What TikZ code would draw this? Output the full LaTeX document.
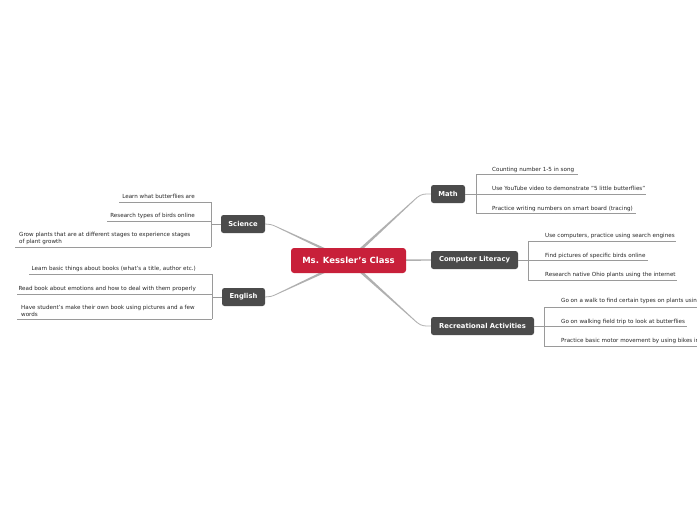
\documentclass[tikz,border=0pt]{standalone}
\usepackage{fontspec}
\setmainfont{DejaVu Sans}
\usetikzlibrary{backgrounds,calc}
\definecolor{centred}{HTML}{C8203A}
\definecolor{topicgray}{HTML}{4B4B4B}
\definecolor{linkgray}{HTML}{B0B0B0}
\definecolor{brgray}{HTML}{9A9A9A}
\definecolor{txtgray}{HTML}{262626}
\begin{document}
\begin{tikzpicture}[x=1pt,y=-1pt,
  centerbox/.style={fill=centred,rounded corners=3pt,text=white,font=\fontsize{8.5}{9}\selectfont\bfseries,minimum height=25pt,inner sep=0pt},
  topicbox/.style={fill=topicgray,rounded corners=2.5pt,text=white,font=\fontsize{6.8}{7}\selectfont\bfseries,minimum height=18pt,inner sep=0pt},
  leaf/.style={inner sep=0pt,text=txtgray,font=\fontsize{5.6}{6.6}\selectfont},
  link/.style={draw=linkgray,line width=0.8pt},
  taper/.style={fill=linkgray},
  bracket/.style={draw=brgray,line width=0.7pt}
]
\useasboundingbox (0,0) rectangle (697,520);

% central and main topics
\node[centerbox,minimum width=115pt] (ms) at (348.5,260.5) {Ms. Kessler's Class};
\node[topicbox,minimum width=34pt] (math) at (448,194) {Math};
\node[topicbox,minimum width=87pt] (cl) at (474.5,260) {Computer Literacy};
\node[topicbox,minimum width=103pt] (rec) at (482.5,326) {Recreational Activities};
\node[topicbox,minimum width=44pt] (sci) at (243,224) {Science};
\node[topicbox,minimum width=43pt] (eng) at (243.5,297) {English};

\coordinate (mb) at (417,197.5);
\coordinate (rb) at (417,322.5);
\coordinate (sb) at (277,227);
\coordinate (eb) at (277,294);

\begin{scope}[on background layer]
\fill[white] (0,0) rectangle (697,520);
\foreach \b in {mb,rb,sb,eb}{
  \fill[taper] ($(ms.center)!1.6pt!90:(\b)$) -- ($(\b)!0.42pt!-90:(ms.center)$)
     -- ($(\b)!0.42pt!90:(ms.center)$) -- ($(ms.center)!1.6pt!-90:(\b)$) -- cycle;
}
\draw[link] (mb) .. controls (422,193.5) and (425,194) .. (math.west);
\draw[link] (rb) .. controls (422,326.5) and (425,326) .. (rec.west);
\draw[link] (sb) .. controls (272,224.5) and (269,224) .. (sci.east);
\draw[link] (eb) .. controls (272,296.5) and (269,297) .. (eng.east);
\fill[taper] ($(ms.center)+(0,-1.3)$) -- ($(cl.west)+(0,-0.6)$) -- ($(cl.west)+(0,0.6)$) -- ($(ms.center)+(0,1.3)$) -- cycle;
\end{scope}

% Math leaves
\coordinate (mj) at (476,194);
\coordinate (m1a) at (476,174); \coordinate (m1b) at (578,174);
\coordinate (m2a) at (476,194); \coordinate (m2b) at (646,194);
\coordinate (m3a) at (476,213.5); \coordinate (m3b) at (636,213.5);
\draw[bracket] (math.east) -- (mj);
\draw[bracket] (m1a) -- (m3a);
\draw[bracket] (m1a) -- (m1b); \draw[bracket] (m2a) -- (m2b); \draw[bracket] (m3a) -- (m3b);
\node[leaf,anchor=base west] (m1) at (492,171) {Counting number 1-5 in song};
\node[leaf,anchor=base west] (m2) at (492,190.5) {Use YouTube video to demonstrate "5 little butterflies"};
\node[leaf,anchor=base west] (m3) at (492,210) {Practice writing numbers on smart board (tracing)};

% Computer Literacy leaves
\coordinate (cj) at (528,260);
\coordinate (c1a) at (528,241); \coordinate (c1b) at (676,241);
\coordinate (c2a) at (528,260.5); \coordinate (c2b) at (648,260.5);
\coordinate (c3a) at (528,280); \coordinate (c3b) at (677,280);
\draw[bracket] (cl.east) -- (cj);
\draw[bracket] (c1a) -- (c3a);
\draw[bracket] (c1a) -- (c1b); \draw[bracket] (c2a) -- (c2b); \draw[bracket] (c3a) -- (c3b);
\node[leaf,anchor=base west] (c1) at (545,237.5) {Use computers, practice using search engines};
\node[leaf,anchor=base west] (c2) at (545,257) {Find pictures of specific birds online};
\node[leaf,anchor=base west] (c3) at (545,276.5) {Research native Ohio plants using the internet};

% Recreational leaves
\coordinate (rj) at (544,326);
\coordinate (r1a) at (544,307); \coordinate (r1b) at (697,307);
\coordinate (r2a) at (544,326.5); \coordinate (r2b) at (687,326.5);
\coordinate (r3a) at (544,346); \coordinate (r3b) at (697,346);
\draw[bracket] (rec.east) -- (rj);
\draw[bracket] (r1a) -- (r3a);
\draw[bracket] (r1a) -- (r1b); \draw[bracket] (r2a) -- (r2b); \draw[bracket] (r3a) -- (r3b);
\begin{scope}
\clip (0,0) rectangle (697,520);
\node[leaf,anchor=base west] (r1) at (561,302.5) {Go on a walk to find certain types on plants using};
\node[leaf,anchor=base west] (r2) at (561,323) {Go on walking field trip to look at butterflies};
\node[leaf,anchor=base west] (r3) at (561,342.5) {Practice basic motor movement by using bikes in};
\end{scope}

% Science leaves
\coordinate (sj) at (211,224);
\coordinate (s1a) at (211,202); \coordinate (s1b) at (119,202);
\coordinate (s2a) at (211,221); \coordinate (s2b) at (107,221);
\coordinate (s3a) at (211,247); \coordinate (s3b) at (15,247);
\draw[bracket] (sci.west) -- (sj);
\draw[bracket] (s1a) -- (s3a);
\draw[bracket] (s1a) -- (s1b); \draw[bracket] (s2a) -- (s2b); \draw[bracket] (s3a) -- (s3b);
\node[leaf,anchor=base east] (s1) at (195,198) {Learn what butterflies are};
\node[leaf,anchor=base east] (s2) at (195,217) {Research types of birds online};
\node[leaf,anchor=south west,align=left] (s3) at (19,244.5) {Grow plants that are at different stages to experience stages\\of plant growth};

% English leaves
\coordinate (ej) at (212,297);
\coordinate (e1a) at (212,274); \coordinate (e1b) at (29,274);
\coordinate (e2a) at (212,294); \coordinate (e2b) at (17,294);
\coordinate (e3a) at (212,319); \coordinate (e3b) at (17,319);
\draw[bracket] (eng.west) -- (ej);
\draw[bracket] (e1a) -- (e3a);
\draw[bracket] (e1a) -- (e1b); \draw[bracket] (e2a) -- (e2b); \draw[bracket] (e3a) -- (e3b);
\node[leaf,anchor=base east] (e1) at (196,270) {Learn basic things about books (what's a title, author etc.)};
\node[leaf,anchor=base east] (e2) at (196,290) {Read book about emotions and how to deal with them properly};
\node[leaf,anchor=south west,align=left] (e3) at (21,316.5) {Have student's make their own book using pictures and a few\\words};
\end{tikzpicture}
\end{document}
